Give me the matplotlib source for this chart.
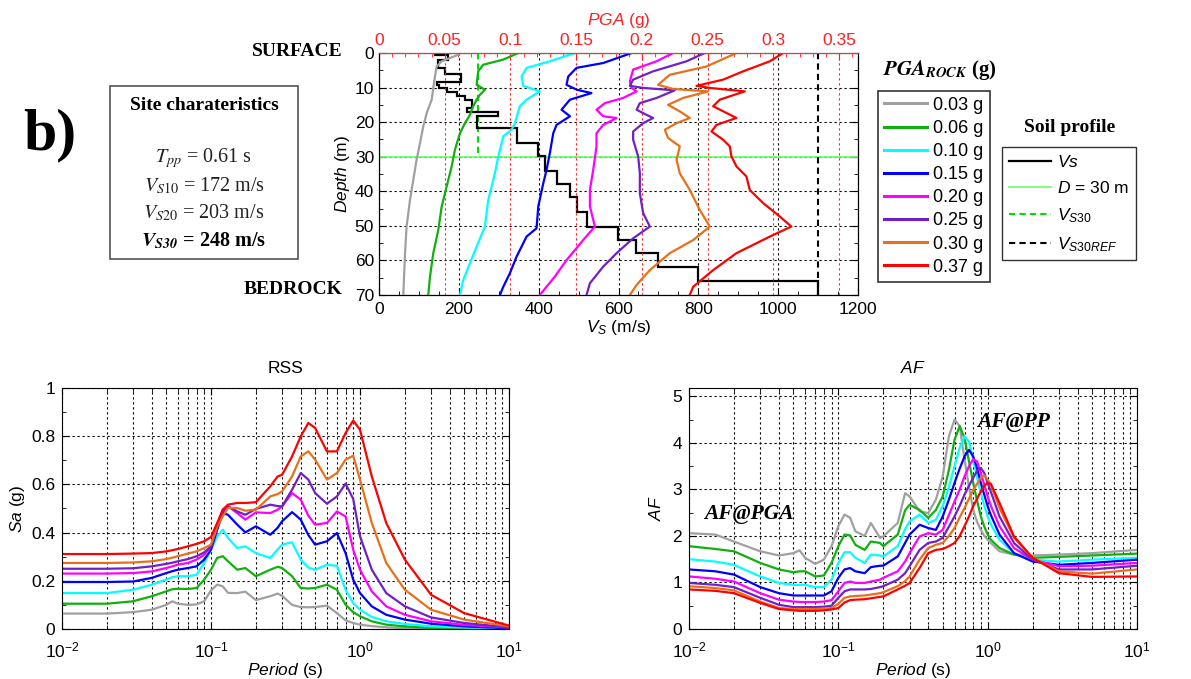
import numpy as np
import matplotlib
matplotlib.use('Agg')
import matplotlib.pyplot as plt
from matplotlib.lines import Line2D
from matplotlib.patches import Rectangle
from matplotlib.ticker import MultipleLocator, FuncFormatter, LogLocator, NullFormatter

plt.rcParams['font.family'] = 'Liberation Sans'
plt.rcParams['mathtext.fontset'] = 'custom'
plt.rcParams['mathtext.rm'] = 'Liberation Sans'
plt.rcParams['mathtext.it'] = 'Liberation Sans:italic'
plt.rcParams['mathtext.bf'] = 'Liberation Sans:bold'
plt.rcParams['mathtext.sf'] = 'Liberation Sans'

# ---------------- data ----------------
PGA_LABELS = ['0.03 g', '0.06 g', '0.10 g', '0.15 g', '0.20 g', '0.25 g', '0.30 g', '0.37 g']
COLORS = ['#a0a0a0', '#10b010', '#00ffff', '#0000ff', '#ff00ff', '#7020c8', '#e8701a', '#ff0000']

# Vs profile (layer edges in m, Vs in m/s)
DEPTH_EDGES = [0, 0.6, 2.0, 4.2, 6.2, 8.3, 9.3, 10.2, 11.2, 12.4, 13.6, 16.0, 17.0, 18.1,
               21.7, 25.9, 29.7, 34.0, 37.8, 41.7, 45.9, 50.2, 54.1, 57.9, 61.8, 65.9, 70]
VS_LAYERS = [140, 172, 147, 165, 205, 145, 150, 170, 195, 215, 232, 220, 299, 245,
             345, 399, 416, 445, 478, 495, 520, 599, 645, 700, 800, 1100]
VS30 = 248
VS30REF = 1100
D30 = 30

# PGA profiles (depth m, PGA g)
PGA_003_DEPTH = [0, 0.5, 2.4, 3.9, 6.8, 10.1, 13.5, 17.4, 21.2, 26.1, 30.9, 36.7, 42.5, 50.2, 57.9, 70]
PGA_003 = [0.0615, 0.0603, 0.0477, 0.0439, 0.0426, 0.0413, 0.0401, 0.0363, 0.0337, 0.0312,
           0.0286, 0.0261, 0.0236, 0.0210, 0.0198, 0.0185]
PGA_006_DEPTH = [0, 1.9, 3.4, 5.3, 9.2, 10.6, 12.1, 13.5, 15.4, 17.9, 20.3, 23.2, 28.0, 32.8,
                 38.6, 44.4, 51.2, 57.9, 64.7, 70]
PGA_006 = [0.1060, 0.0946, 0.0793, 0.0755, 0.0743, 0.0806, 0.0768, 0.0743, 0.0717, 0.0692,
           0.0654, 0.0616, 0.0578, 0.0553, 0.0515, 0.0477, 0.0451, 0.0413, 0.0388, 0.0375]
PGA_010_DEPTH = [0, 2.4, 4.3, 6.8, 9.5, 11.1, 13.5, 15.4, 20.3, 22.2, 24.1, 29.9, 34.8, 42.5,
                 50.2, 56.0, 60.8, 65.7, 70]
PGA_010 = [0.1491, 0.1300, 0.1123, 0.1085, 0.1098, 0.1224, 0.1123, 0.1072, 0.1034, 0.1009,
           0.0946, 0.0908, 0.0882, 0.0831, 0.0806, 0.0743, 0.0692, 0.0641, 0.0616]
PGA_015_DEPTH = [0, 2.9, 4.3, 6.8, 9.2, 10.6, 11.6, 13.5, 16.4, 18.3, 20.8, 23.2, 29.0, 33.8,
                 37.7, 44.4, 50.7, 53.1, 58.9, 63.7, 67.6, 70]
PGA_015 = [0.1922, 0.1706, 0.1503, 0.1440, 0.1427, 0.1503, 0.1617, 0.1453, 0.1389, 0.1453,
           0.1351, 0.1326, 0.1300, 0.1275, 0.1250, 0.1212, 0.1199, 0.1123, 0.1047, 0.0996,
           0.0946, 0.0920]
PGA_020_DEPTH = [0, 2.4, 4.8, 8.2, 10.1, 11.1, 13.0, 14.5, 16.4, 18.3, 18.8, 20.8, 23.2, 27.0,
                 33.8, 39.6, 44.4, 50.2, 54.1, 59.9, 64.7, 67.6, 70]
PGA_020 = [0.2238, 0.2112, 0.1934, 0.1909, 0.1922, 0.1960, 0.1858, 0.1719, 0.1655, 0.1706,
           0.1808, 0.1706, 0.1655, 0.1655, 0.1630, 0.1605, 0.1605, 0.1643, 0.1554, 0.1427,
           0.1338, 0.1275, 0.1224]
PGA_025_DEPTH = [0, 2.4, 5.3, 7.7, 9.5, 10.1, 10.8, 13.0, 14.5, 16.4, 17.9, 18.8, 20.3, 22.7,
                 25.1, 29.9, 34.8, 40.6, 46.3, 50.2, 53.6, 57.9, 61.8, 66.6, 70]
PGA_025 = [0.2479, 0.2340, 0.2086, 0.1934, 0.1909, 0.2010, 0.2251, 0.2112, 0.1985, 0.1960,
           0.2036, 0.2086, 0.2010, 0.1934, 0.1934, 0.1972, 0.1985, 0.1985, 0.2010, 0.2061,
           0.1934, 0.1808, 0.1706, 0.1605, 0.1579]
PGA_030_DEPTH = [0, 3.9, 6.3, 9.2, 10.4, 11.1, 13.0, 15.0, 16.9, 18.8, 20.3, 22.2, 24.6, 27.0,
                 30.9, 34.8, 39.6, 45.4, 50.2, 54.1, 57.9, 62.8, 67.1, 70]
PGA_030 = [0.2720, 0.2492, 0.2213, 0.2124, 0.2238, 0.2505, 0.2314, 0.2200, 0.2289, 0.2365,
           0.2264, 0.2175, 0.2200, 0.2289, 0.2264, 0.2289, 0.2365, 0.2441, 0.2517, 0.2391,
           0.2213, 0.2061, 0.1960, 0.1909]
PGA_037_DEPTH = [0, 2.4, 5.3, 7.7, 9.5, 10.1, 11.1, 13.5, 15.4, 18.8, 20.8, 22.7, 25.1, 27.0,
                 29.9, 32.8, 35.7, 39.6, 43.4, 47.3, 50.2, 53.1, 57.9, 62.8, 67.6, 70]
PGA_037 = [0.3075, 0.2974, 0.2771, 0.2619, 0.2416, 0.2517, 0.2783, 0.2593, 0.2543, 0.2720,
           0.2568, 0.2530, 0.2619, 0.2669, 0.2682, 0.2720, 0.2796, 0.2821, 0.2923, 0.3050,
           0.3138, 0.2974, 0.2720, 0.2543, 0.2391, 0.2365]

# Response spectra at surface (Sa, g)
T_RSS = [0.01, 0.02, 0.03, 0.04, 0.05, 0.055, 0.06, 0.07, 0.08, 0.09, 0.1, 0.11, 0.12, 0.13,
         0.15, 0.17, 0.2, 0.25, 0.28, 0.3, 0.35, 0.4, 0.45, 0.5, 0.6, 0.7, 0.8, 0.9, 1.0, 1.2,
         1.5, 2, 3, 5, 10]
SA_003 = [.064, .064, .07, .08, .10, .115, .105, .10, .102, .115, .16, .184, .177, .15, .149,
          .155, .12, .136, .147, .138, .10, .091, .09, .091, .097, .066, .036, .025, .018, .012,
          .007, .003, .001, 0.0, 0.0]
SA_006 = [.105, .105, .115, .136, .156, .165, .167, .166, .17, .205, .246, .295, .302, .281,
          .246, .253, .219, .246, .258, .253, .219, .17, .168, .17, .184, .163, .101, .07, .053,
          .032, .018, .011, .004, .002, 0.0]
SA_010 = [.149, .149, .163, .184, .205, .215, .219, .219, .225, .274, .329, .385, .412, .378,
          .336, .343, .315, .295, .33, .350, .36, .288, .255, .246, .267, .262, .163, .108, .080,
          .050, .032, .021, .011, .006, .001]
SA_015 = [.195, .195, .197, .212, .232, .24, .246, .253, .26, .288, .329, .412, .481, .474,
          .433, .401, .426, .391, .42, .447, .485, .454, .39, .350, .364, .398, .315, .205, .149,
          .094, .059, .039, .022, .011, .003]
SA_020 = [.230, .230, .232, .239, .253, .26, .267, .274, .288, .308, .343, .426, .495, .509,
          .481, .454, .484, .481, .495, .509, .564, .537, .47, .433, .440, .488, .467, .329, .246,
          .156, .094, .059, .032, .017, .006]
SA_025 = [.250, .250, .252, .260, .270, .275, .281, .290, .302, .318, .343, .426, .481, .509,
          .488, .474, .498, .516, .51, .509, .578, .647, .620, .564, .520, .550, .603, .54, .385,
          .246, .149, .094, .048, .025, .007]
SA_030 = [.274, .274, .276, .281, .290, .296, .302, .313, .322, .336, .350, .426, .467, .502,
          .502, .491, .495, .550, .56, .571, .633, .716, .737, .703, .620, .647, .703, .719, .62,
          .440, .274, .163, .080, .039, .011]
SA_037 = [.311, .311, .313, .315, .322, .327, .332, .343, .353, .364, .382, .440, .495, .516,
          .523, .523, .526, .592, .633, .640, .716, .799, .855, .834, .737, .737, .813, .865, .827,
          .633, .440, .288, .142, .066, .014]

# Amplification factors
T_AF = [0.01, 0.015, 0.02, 0.03, 0.04, 0.05, 0.055, 0.06, 0.07, 0.08, 0.09, 0.1, 0.11, 0.12,
        0.13, 0.15, 0.165, 0.19, 0.2, 0.25, 0.28, 0.3, 0.35, 0.4, 0.45, 0.5, 0.55, 0.6, 0.65,
        0.7, 0.75, 0.8, 0.85, 0.9, 0.95, 1.0, 1.05, 1.2, 1.5, 2, 3, 5, 10]
AF_003 = [2.06, 2.03, 1.88, 1.67, 1.58, 1.63, 1.69, 1.53, 1.40, 1.49, 1.78, 2.21, 2.46, 2.39,
          2.10, 2.00, 2.28, 1.96, 1.99, 2.28, 2.92, 2.85, 2.53, 2.49, 2.78, 3.28, 4.14, 4.50,
          4.36, 3.64, 3.05, 2.56, 2.30, 2.13, 2.0, 1.92, 1.85, 1.67, 1.60, 1.58, 1.60, 1.63, 1.70]
AF_006 = [1.78, 1.72, 1.67, 1.42, 1.28, 1.22, 1.24, 1.24, 1.13, 1.15, 1.42, 1.78, 2.03, 2.01,
          1.81, 1.70, 1.88, 1.85, 1.78, 2.03, 2.55, 2.67, 2.56, 2.39, 2.56, 2.85, 3.42, 4.07,
          4.36, 4.10, 3.6, 3.14, 2.75, 2.42, 2.2, 2.03, 1.92, 1.74, 1.60, 1.53, 1.55, 1.58, 1.62]
AF_010 = [1.50, 1.45, 1.38, 1.13, 0.99, 0.95, 0.95, 0.95, 0.90, 0.90, 1.06, 1.42, 1.65, 1.65,
          1.53, 1.42, 1.60, 1.58, 1.56, 1.78, 2.15, 2.31, 2.46, 2.28, 2.35, 2.64, 3.05, 3.50,
          3.9, 4.14, 4.03, 3.64, 3.25, 2.92, 2.65, 2.42, 2.25, 1.92, 1.63, 1.49, 1.45, 1.49, 1.53]
AF_015 = [1.28, 1.24, 1.17, 0.90, 0.77, 0.72, 0.72, 0.72, 0.72, 0.72, 0.81, 1.10, 1.28, 1.31,
          1.24, 1.20, 1.33, 1.36, 1.36, 1.56, 1.85, 2.03, 2.24, 2.17, 2.13, 2.42, 2.78, 3.14,
          3.45, 3.71, 3.85, 3.71, 3.45, 3.14, 2.88, 2.64, 2.45, 2.03, 1.63, 1.45, 1.38, 1.42, 1.49]
AF_020 = [1.13, 1.08, 1.02, 0.77, 0.63, 0.59, 0.58, 0.58, 0.58, 0.59, 0.62, 0.81, 0.99, 1.02,
          0.99, 0.99, 1.02, 1.06, 1.10, 1.24, 1.45, 1.63, 1.99, 2.06, 2.03, 2.13, 2.45, 2.74,
          3.0, 3.28, 3.5, 3.65, 3.6, 3.35, 3.1, 2.85, 2.65, 2.21, 1.74, 1.49, 1.35, 1.36, 1.42]
AF_025 = [0.99, 0.95, 0.90, 0.67, 0.52, 0.47, 0.47, 0.47, 0.47, 0.48, 0.50, 0.67, 0.81, 0.85,
          0.85, 0.85, 0.86, 0.9, 0.92, 1.06, 1.2, 1.35, 1.70, 1.85, 1.88, 1.96, 2.2, 2.42,
          2.65, 2.89, 3.08, 3.25, 3.4, 3.46, 3.35, 3.14, 2.95, 2.42, 1.85, 1.49, 1.28, 1.28, 1.36]
AF_030 = [0.92, 0.88, 0.83, 0.59, 0.45, 0.43, 0.43, 0.43, 0.43, 0.44, 0.45, 0.54, 0.67, 0.70,
          0.71, 0.72, 0.74, 0.77, 0.79, 0.92, 1.03, 1.13, 1.49, 1.74, 1.81, 1.85, 2.0, 2.17,
          2.4, 2.60, 2.8, 2.99, 3.12, 3.25, 3.30, 3.21, 3.1, 2.60, 1.96, 1.53, 1.24, 1.19, 1.28]
AF_037 = [0.85, 0.82, 0.77, 0.56, 0.43, 0.40, 0.39, 0.39, 0.39, 0.40, 0.42, 0.45, 0.57, 0.62,
          0.63, 0.64, 0.66, 0.69, 0.70, 0.85, 0.93, 0.99, 1.31, 1.63, 1.70, 1.72, 1.78, 1.85,
          2.0, 2.21, 2.42, 2.64, 2.8, 2.96, 3.08, 3.14, 3.12, 2.71, 1.99, 1.53, 1.20, 1.12, 1.13]

PGA_PROFILES = [(PGA_003, PGA_003_DEPTH), (PGA_006, PGA_006_DEPTH), (PGA_010, PGA_010_DEPTH),
                (PGA_015, PGA_015_DEPTH), (PGA_020, PGA_020_DEPTH), (PGA_025, PGA_025_DEPTH),
                (PGA_030, PGA_030_DEPTH), (PGA_037, PGA_037_DEPTH)]
SA_CURVES = [SA_003, SA_006, SA_010, SA_015, SA_020, SA_025, SA_030, SA_037]
AF_CURVES = [AF_003, AF_006, AF_010, AF_015, AF_020, AF_025, AF_030, AF_037]

# ---------------- figure ----------------
W, H = 1191, 679
fig = plt.figure(figsize=(W / 100, H / 100), dpi=100)


def rect(l, t, r, b):
    return [l / W, 1 - b / H, (r - l) / W, (b - t) / H]


def ftext(x, y, s, **kw):
    return fig.text(x / W, 1 - y / H, s, **kw)


GRID = dict(color='k', linestyle=(0, (2, 2.5)), linewidth=0.8)
TICK_FS = 12.5
LW = 1.6

# ---- top panel: Vs / PGA profiles ----
ax = fig.add_axes(rect(379, 53, 858, 295))
ax.set_xlim(0, 1200)
ax.set_ylim(70, 0)
ax.xaxis.set_major_locator(MultipleLocator(200))
ax.xaxis.set_minor_locator(MultipleLocator(50))
ax.yaxis.set_major_locator(MultipleLocator(10))
ax.yaxis.set_minor_locator(MultipleLocator(5))
ax.tick_params(axis='both', which='both', direction='in', labelsize=TICK_FS)
ax.tick_params(axis='y', which='both', right=True)
ax.tick_params(axis='x', which='both', top=False, pad=5)
ax.tick_params(which='major', length=5)
ax.tick_params(which='minor', length=3)
ax.grid(True, which='major', **GRID)
ax.set_xlabel(r'$V_S$ (m/s)', fontsize=TICK_FS, labelpad=1)
ax.set_ylabel(r'$Depth$ (m)', fontsize=TICK_FS, labelpad=2)

ax2 = ax.twiny()
ax2.set_xlim(0, 0.3645)
ax2.xaxis.set_major_locator(MultipleLocator(0.05))
ax2.xaxis.set_minor_locator(MultipleLocator(0.01))
ax2.xaxis.set_major_formatter(FuncFormatter(lambda v, p: '%g' % round(v, 3)))
ax2.tick_params(axis='x', which='both', direction='in', colors='#ff2020', labelsize=TICK_FS)
ax2.tick_params(which='major', length=5)
ax2.tick_params(which='minor', length=3)
ax2.spines['top'].set_color('#ff3030')
ax2.grid(True, which='major', axis='x', color='#ff2020', linestyle=(0, (2, 2.5)), linewidth=0.8)
ax2.set_xlabel(r'$PGA$ (g)', fontsize=TICK_FS, color='#ff2020', labelpad=6)

ax.axhline(D30, color='#66ff66', lw=1.2, zorder=3)
ax.plot([VS30, VS30], [0, D30], color='#00dd00', ls=(0, (3, 2)), lw=1.5, zorder=3)
ax.plot([VS30REF, VS30REF], [0, 70], color='k', ls=(0, (3, 2)), lw=1.5, zorder=3)
ax.stairs(VS_LAYERS, DEPTH_EDGES, orientation='horizontal', baseline=None, color='k', lw=1.6,
          zorder=4)
for (vals, dep), c in zip(PGA_PROFILES, COLORS):
    ax2.plot(vals, dep, color=c, lw=LW)

# ---- RSS / AF panels ----
axr = fig.add_axes(rect(62, 388, 509, 629))
axa = fig.add_axes(rect(689, 388, 1137, 629))
for a in (axr, axa):
    a.set_xscale('log')
    a.set_xlim(0.01, 10)
    a.xaxis.set_major_locator(LogLocator(base=10, numticks=10))
    a.xaxis.set_minor_locator(LogLocator(base=10, subs=np.arange(2, 10), numticks=20))
    a.xaxis.set_minor_formatter(NullFormatter())
    a.tick_params(axis='both', which='both', direction='in', top=True, right=True,
                  labelsize=TICK_FS)
    a.tick_params(axis='x', which='major', pad=8)
    a.tick_params(axis='y', which='major', pad=5)
    a.tick_params(which='major', length=5)
    a.tick_params(which='minor', length=3)
    a.grid(True, which='major', **GRID)
    a.grid(True, which='minor', axis='x', **GRID)
    a.set_xlabel(r'$Period$ (s)', fontsize=TICK_FS, labelpad=1)

axr.set_ylim(0, 1)
axr.yaxis.set_major_locator(MultipleLocator(0.2))
axr.yaxis.set_minor_locator(MultipleLocator(0.1))
axr.yaxis.set_major_formatter(FuncFormatter(lambda v, p: '%g' % round(v, 2)))
axr.set_ylabel(r'$Sa$ (g)', fontsize=TICK_FS, labelpad=3)
axr.set_title('RSS', fontsize=TICK_FS, pad=11)
for vals, c in zip(SA_CURVES, COLORS):
    axr.plot(T_RSS, vals, color=c, lw=LW)

axa.set_ylim(0, 5.18)
axa.yaxis.set_major_locator(MultipleLocator(1))
axa.yaxis.set_minor_locator(MultipleLocator(0.5))
axa.set_ylabel(r'$AF$', fontsize=TICK_FS, labelpad=6)
axa.set_title(r'$AF$', fontsize=TICK_FS, pad=11)
for vals, c in zip(AF_CURVES, COLORS):
    axa.plot(T_AF, vals, color=c, lw=LW)

SERIF_BI = dict(family='Liberation Serif', fontweight='bold', fontstyle='italic')
ftext(704, 514, 'AF@PGA', fontsize=15.5, va='center', ha='left', **SERIF_BI)
ftext(977, 422, 'AF@PP', fontsize=15.5, va='center', ha='left', **SERIF_BI)

# ---- annotations, left ----
SERIF_B = dict(family='Liberation Serif', fontweight='bold')
ftext(50, 135, 'b)', fontsize=43, ha='center', va='center', **SERIF_B)
ftext(343, 52, 'SURFACE', fontsize=14, ha='right', va='center', **SERIF_B)
ftext(343, 290, 'BEDROCK', fontsize=14, ha='right', va='center', **SERIF_B)

fig.add_artist(Rectangle((110 / W, 1 - 259 / H), 188 / W, 173 / H, transform=fig.transFigure,
                         fill=False, edgecolor='#555555', lw=1.2))
ftext(204, 105, 'Site charateristics', fontsize=14, ha='center', va='center', **SERIF_B)
SERIF_M = dict(family='Liberation Serif', math_fontfamily='stix', fontsize=14.5, ha='center',
               va='center')
ftext(204, 158, r'$T_{pp}$ = 0.61 s', color='#222222', **SERIF_M)
ftext(204, 186, r'$V_{S10}$ = 172 m/s', color='#222222', **SERIF_M)
ftext(204, 213, r'$V_{S20}$ = 203 m/s', color='#222222', **SERIF_M)
ftext(204, 241, r'$\mathbfit{V}_{\mathbfit{S30}}$ = 248 m/s', fontweight='bold', color='k',
      **SERIF_M)

# ---- legends ----
ftext(940, 70, r'$\mathbfit{PGA}_{\mathbfit{ROCK}}$ (g)', fontsize=15, ha='center',
      va='center', family='Liberation Serif', fontweight='bold', math_fontfamily='stix')
h1 = [Line2D([], [], color=c, lw=2.2) for c in COLORS]
leg1 = fig.legend(h1, PGA_LABELS, loc='upper left', bbox_to_anchor=(878 / W, 1 - 91 / H),
                  borderaxespad=0, fontsize=13, handlelength=2.4, handletextpad=0.35,
                  labelspacing=0.34, borderpad=0.32, fancybox=False, framealpha=1,
                  edgecolor='#333333')
leg1.get_frame().set_linewidth(1.2)

ftext(1070, 128, 'Soil profile', fontsize=14, ha='center', va='center', **SERIF_B)
h2 = [Line2D([], [], color='k', lw=1.6),
      Line2D([], [], color='#66ff66', lw=1.2),
      Line2D([], [], color='#00dd00', lw=1.5, ls=(0, (3, 2))),
      Line2D([], [], color='k', lw=1.5, ls=(0, (3, 2)))]
l2 = [r'$Vs$', r'$D$ = 30 m', r'$V_{S30}$', r'$V_{S30REF}$']
leg2 = fig.legend(h2, l2, loc='upper left', bbox_to_anchor=(1002 / W, 1 - 147 / H),
                  borderaxespad=0, fontsize=12.5, handlelength=2.4, handletextpad=0.35,
                  labelspacing=0.58, borderpad=0.4, fancybox=False, framealpha=1,
                  edgecolor='#333333')
leg2.get_frame().set_linewidth(1.0)

fig.savefig('out.png', dpi=100)
